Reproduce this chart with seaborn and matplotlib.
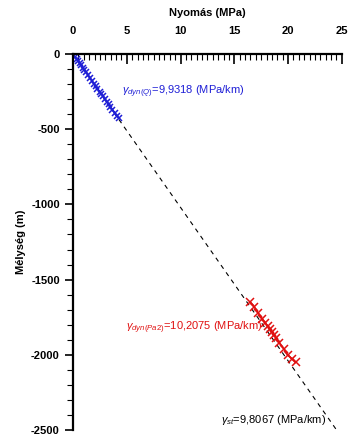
import matplotlib
matplotlib.use("Agg")
import matplotlib.pyplot as plt
import seaborn as sns
import pandas as pd
from matplotlib.ticker import MultipleLocator

# Q (quaternary) measurements: pressure (MPa) vs depth (m)
q_pressure = [0.22, 0.36, 0.47, 0.61, 0.73, 0.90, 1.04, 1.21, 1.38, 1.60, 1.78, 1.97,
              2.15, 2.27, 2.49, 2.62, 2.80, 2.96, 3.19, 3.31, 3.48, 3.66, 3.89, 4.05, 4.25]
q_depth = [-20, -35, -48, -60, -75, -90, -105, -120, -140, -160, -180, -200,
           -215, -230, -250, -265, -280, -300, -320, -335, -350, -370, -390, -410, -425]

# Pa2 measurements
pa_pressure = [16.5, 16.85, 17.2, 17.6, 17.9, 18.1, 18.3, 18.5, 18.7, 18.9, 19.2, 19.6, 19.95, 20.4, 20.7]
pa_depth = [-1650, -1680, -1720, -1760, -1790, -1810, -1830, -1850, -1870, -1890, -1920, -1960, -2000, -2030, -2050]

# hydrostatic line
hs_pressure = [0.0, 25.1]
hs_depth = [0, -2560]

labels = {
    "q": r"$\gamma_{dyn(Q)}$=9,9318 (MPa/km)",
    "pa": r"$\gamma_{dyn(Pa2)}$=10,2075 (MPa/km)",
    "hs": r"$\gamma_{st}$=9,8067 (MPa/km)",
}

sns.set_style("ticks")
plt.rcParams["font.family"] = ["Liberation Sans", "DejaVu Sans"]
plt.rcParams["mathtext.fontset"] = "custom"
plt.rcParams["mathtext.rm"] = "Liberation Sans"
plt.rcParams["mathtext.it"] = "Liberation Sans:italic"
plt.rcParams["axes.unicode_minus"] = False
plt.rcParams["xtick.color"] = "black"
plt.rcParams["ytick.color"] = "black"
plt.rcParams["axes.labelcolor"] = "black"
plt.rcParams["axes.edgecolor"] = "black"

fig = plt.figure(figsize=(3.5, 4.38), dpi=100)
ax = fig.add_axes([0.2086, 0.0183, 0.768, 0.8584])

blue = "#1f1fd6"
red = "#e01010"

ax.plot(hs_pressure, hs_depth, color="black", lw=0.8, dashes=(4, 4))

df_q = pd.DataFrame({"p": q_pressure, "d": q_depth})
df_pa = pd.DataFrame({"p": pa_pressure, "d": pa_depth})
sns.lineplot(data=df_q, x="p", y="d", sort=False, estimator=None, ax=ax,
             color=blue, lw=1.2, marker="x", markersize=5, markeredgewidth=1.1,
             markeredgecolor=blue)
sns.lineplot(data=df_pa, x="p", y="d", sort=False, estimator=None, ax=ax,
             color=red, lw=1.2, marker="x", markersize=6, markeredgewidth=1.1,
             markeredgecolor=red)

ax.text(4.55, -253, labels["q"], color=blue, fontsize=8, va="center")
ax.text(4.9, -1822, labels["pa"], color=red, fontsize=8, va="center")
ax.text(13.8, -2433, labels["hs"], color="black", fontsize=8, va="center")

ax.set_xlim(0, 25)
ax.set_ylim(-2500, 0)
ax.xaxis.tick_top()
ax.xaxis.set_label_position("top")
ax.xaxis.set_major_locator(MultipleLocator(5))
ax.xaxis.set_minor_locator(MultipleLocator(0.5))
ax.yaxis.set_major_locator(MultipleLocator(500))
ax.yaxis.set_minor_locator(MultipleLocator(100))
ax.tick_params(axis="x", which="major", direction="in", length=7, width=1.2, labelsize=8, pad=13)
ax.tick_params(axis="x", which="minor", direction="in", length=4, width=0.8)
ax.tick_params(axis="y", which="major", direction="out", length=6, width=1.2, labelsize=8)
ax.tick_params(axis="y", which="minor", direction="out", length=4, width=0.8)
for lab in ax.get_xticklabels() + ax.get_yticklabels():
    lab.set_fontweight("bold")

ax.set_xlabel("Nyomás (MPa)", fontsize=8, fontweight="bold", labelpad=7)
ax.set_ylabel("Mélység (m)", fontsize=8, fontweight="bold", labelpad=4)

for side in ["right", "bottom"]:
    ax.spines[side].set_visible(False)
ax.spines["top"].set_linewidth(1.6)
ax.spines["left"].set_linewidth(1.6)

fig.savefig("out.png", dpi=100)
